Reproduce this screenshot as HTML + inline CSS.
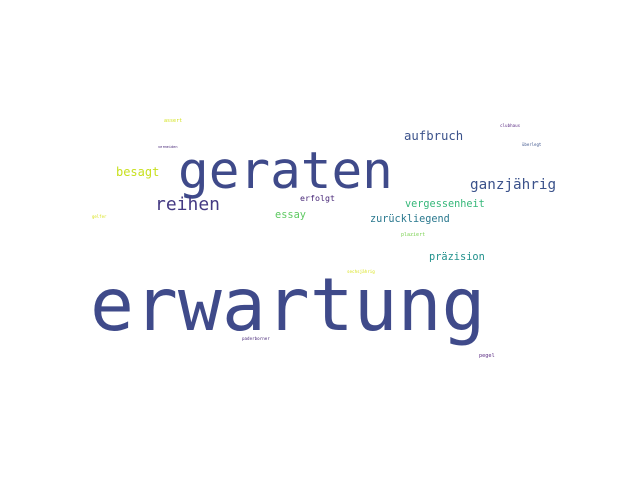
<!DOCTYPE html>
<html><head><meta charset="utf-8"><style>
html,body{margin:0;padding:0;background:#fff;}
svg text{font-family:"DejaVu Sans Mono","Liberation Mono",monospace;}
</style></head><body>
<svg width="640" height="480">
<rect width="640" height="480" fill="#fff"/>
<g id="words"></g>
</svg>
<script>
const words=["erwartung","geraten","reihen","besagt","aufbruch","ganzjährig","vergessenheit","zurückliegend","präzision","essay","erfolgt","assert","vermeiden","gelfer","clubhaus","überlegt","plaziert","sechsjährig","paderborner","pegel"];
const sizes=[73,51,18,12,12.3,14.3,10.2,10.2,10.3,10.3,8.3,5,3.6,4,4.2,4,5,4.2,4.2,5.2];
const xs=[90,178,155,116,404,470,405,370,429,275,300,164,158,92,500,522,401,347,242,479];
const ys=[330,188,210,176,140,189,207,222,260,218,201,122,148,218,127,146,236,273,340,357];
const colors=["#3f4a8a","#3f4a8a","#443983","#c8e020","#3b528b","#3b528b","#35b779","#2a788e","#21918c","#5ec962","#482878","#d2e21b","#482878","#d8e219","#5b2c84","#3b528b","#7ad151","#d8e219","#482878","#5b2c84"];
const g=document.getElementById('words');
words.forEach((w,i)=>{
 const t=document.createElementNS('http://www.w3.org/2000/svg','text');
 t.setAttribute('x',xs[i]);t.setAttribute('y',ys[i]);
 t.setAttribute('font-size',sizes[i]);t.setAttribute('fill',colors[i]);
 t.setAttribute('textLength',(sizes[i]*0.602*w.length).toFixed(1));
 t.textContent=w;
 
 
 g.appendChild(t);
});
</script>
</body></html>
